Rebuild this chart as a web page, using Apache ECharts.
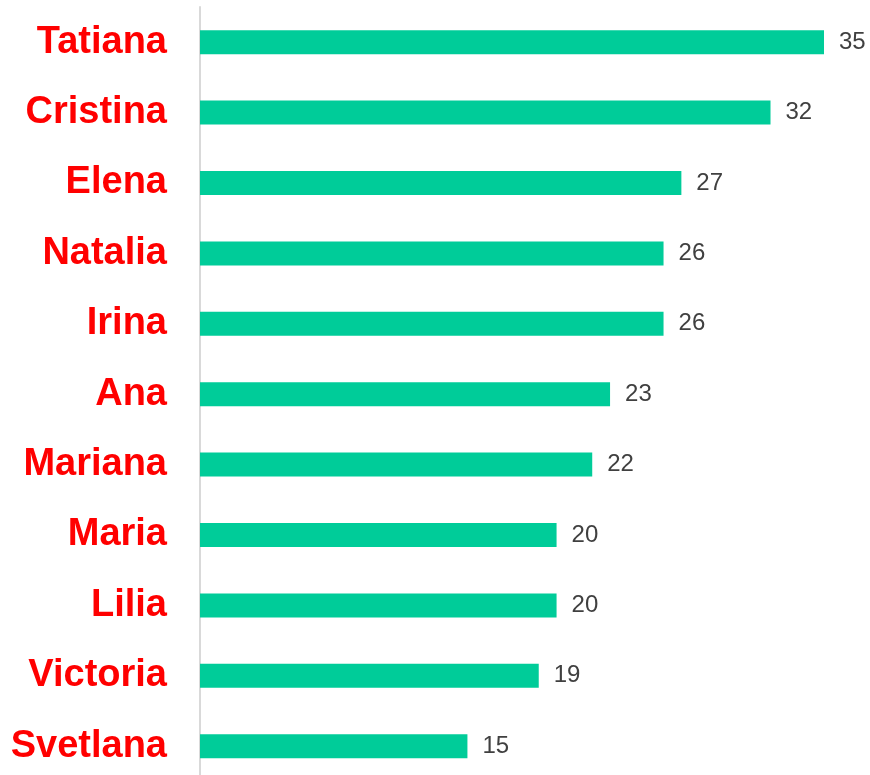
<!DOCTYPE html>
<html>
<head>
<meta charset="utf-8">
<script src="https://cdn.jsdelivr.net/npm/echarts@6/dist/echarts.min.js"></script>
<style>html,body{margin:0;padding:0;background:#fff;}#c{width:870px;height:775px;}</style>
</head>
<body>
<div id="c"></div>
<script>
const categories = ["Tatiana","Cristina","Elena","Natalia","Irina","Ana","Mariana","Maria","Lilia","Victoria","Svetlana"];
const values = [35,32,27,26,26,23,22,20,20,19,15];

const chart = echarts.init(document.getElementById('c'));
chart.setOption({
  animation: false,
  grid: { left: 200, right: 46, top: 7, height: 774.4, containLabel: false, outerBoundsMode: 'none' },
  xAxis: { type: 'value', min: 0, max: 35, show: false },
  yAxis: {
    type: 'category', data: categories, inverse: true,
    axisLine: { show: true, lineStyle: { color: '#d9d9d9', width: 2 } },
    axisTick: { show: false },
    axisLabel: { color: '#ff0000', fontWeight: 'bold', fontSize: 38, fontFamily: 'Liberation Sans, Arial, sans-serif', margin: 33, padding: [4, 0, 0, 0] }
  },
  series: [{
    type: 'bar', data: values, barWidth: 24,
    itemStyle: { color: '#00cc99' },
    label: { show: true, position: 'right', distance: 15, color: '#404040', fontSize: 24, fontFamily: 'Liberation Sans, Arial, sans-serif' }
  }]
});
</script>
</body>
</html>
